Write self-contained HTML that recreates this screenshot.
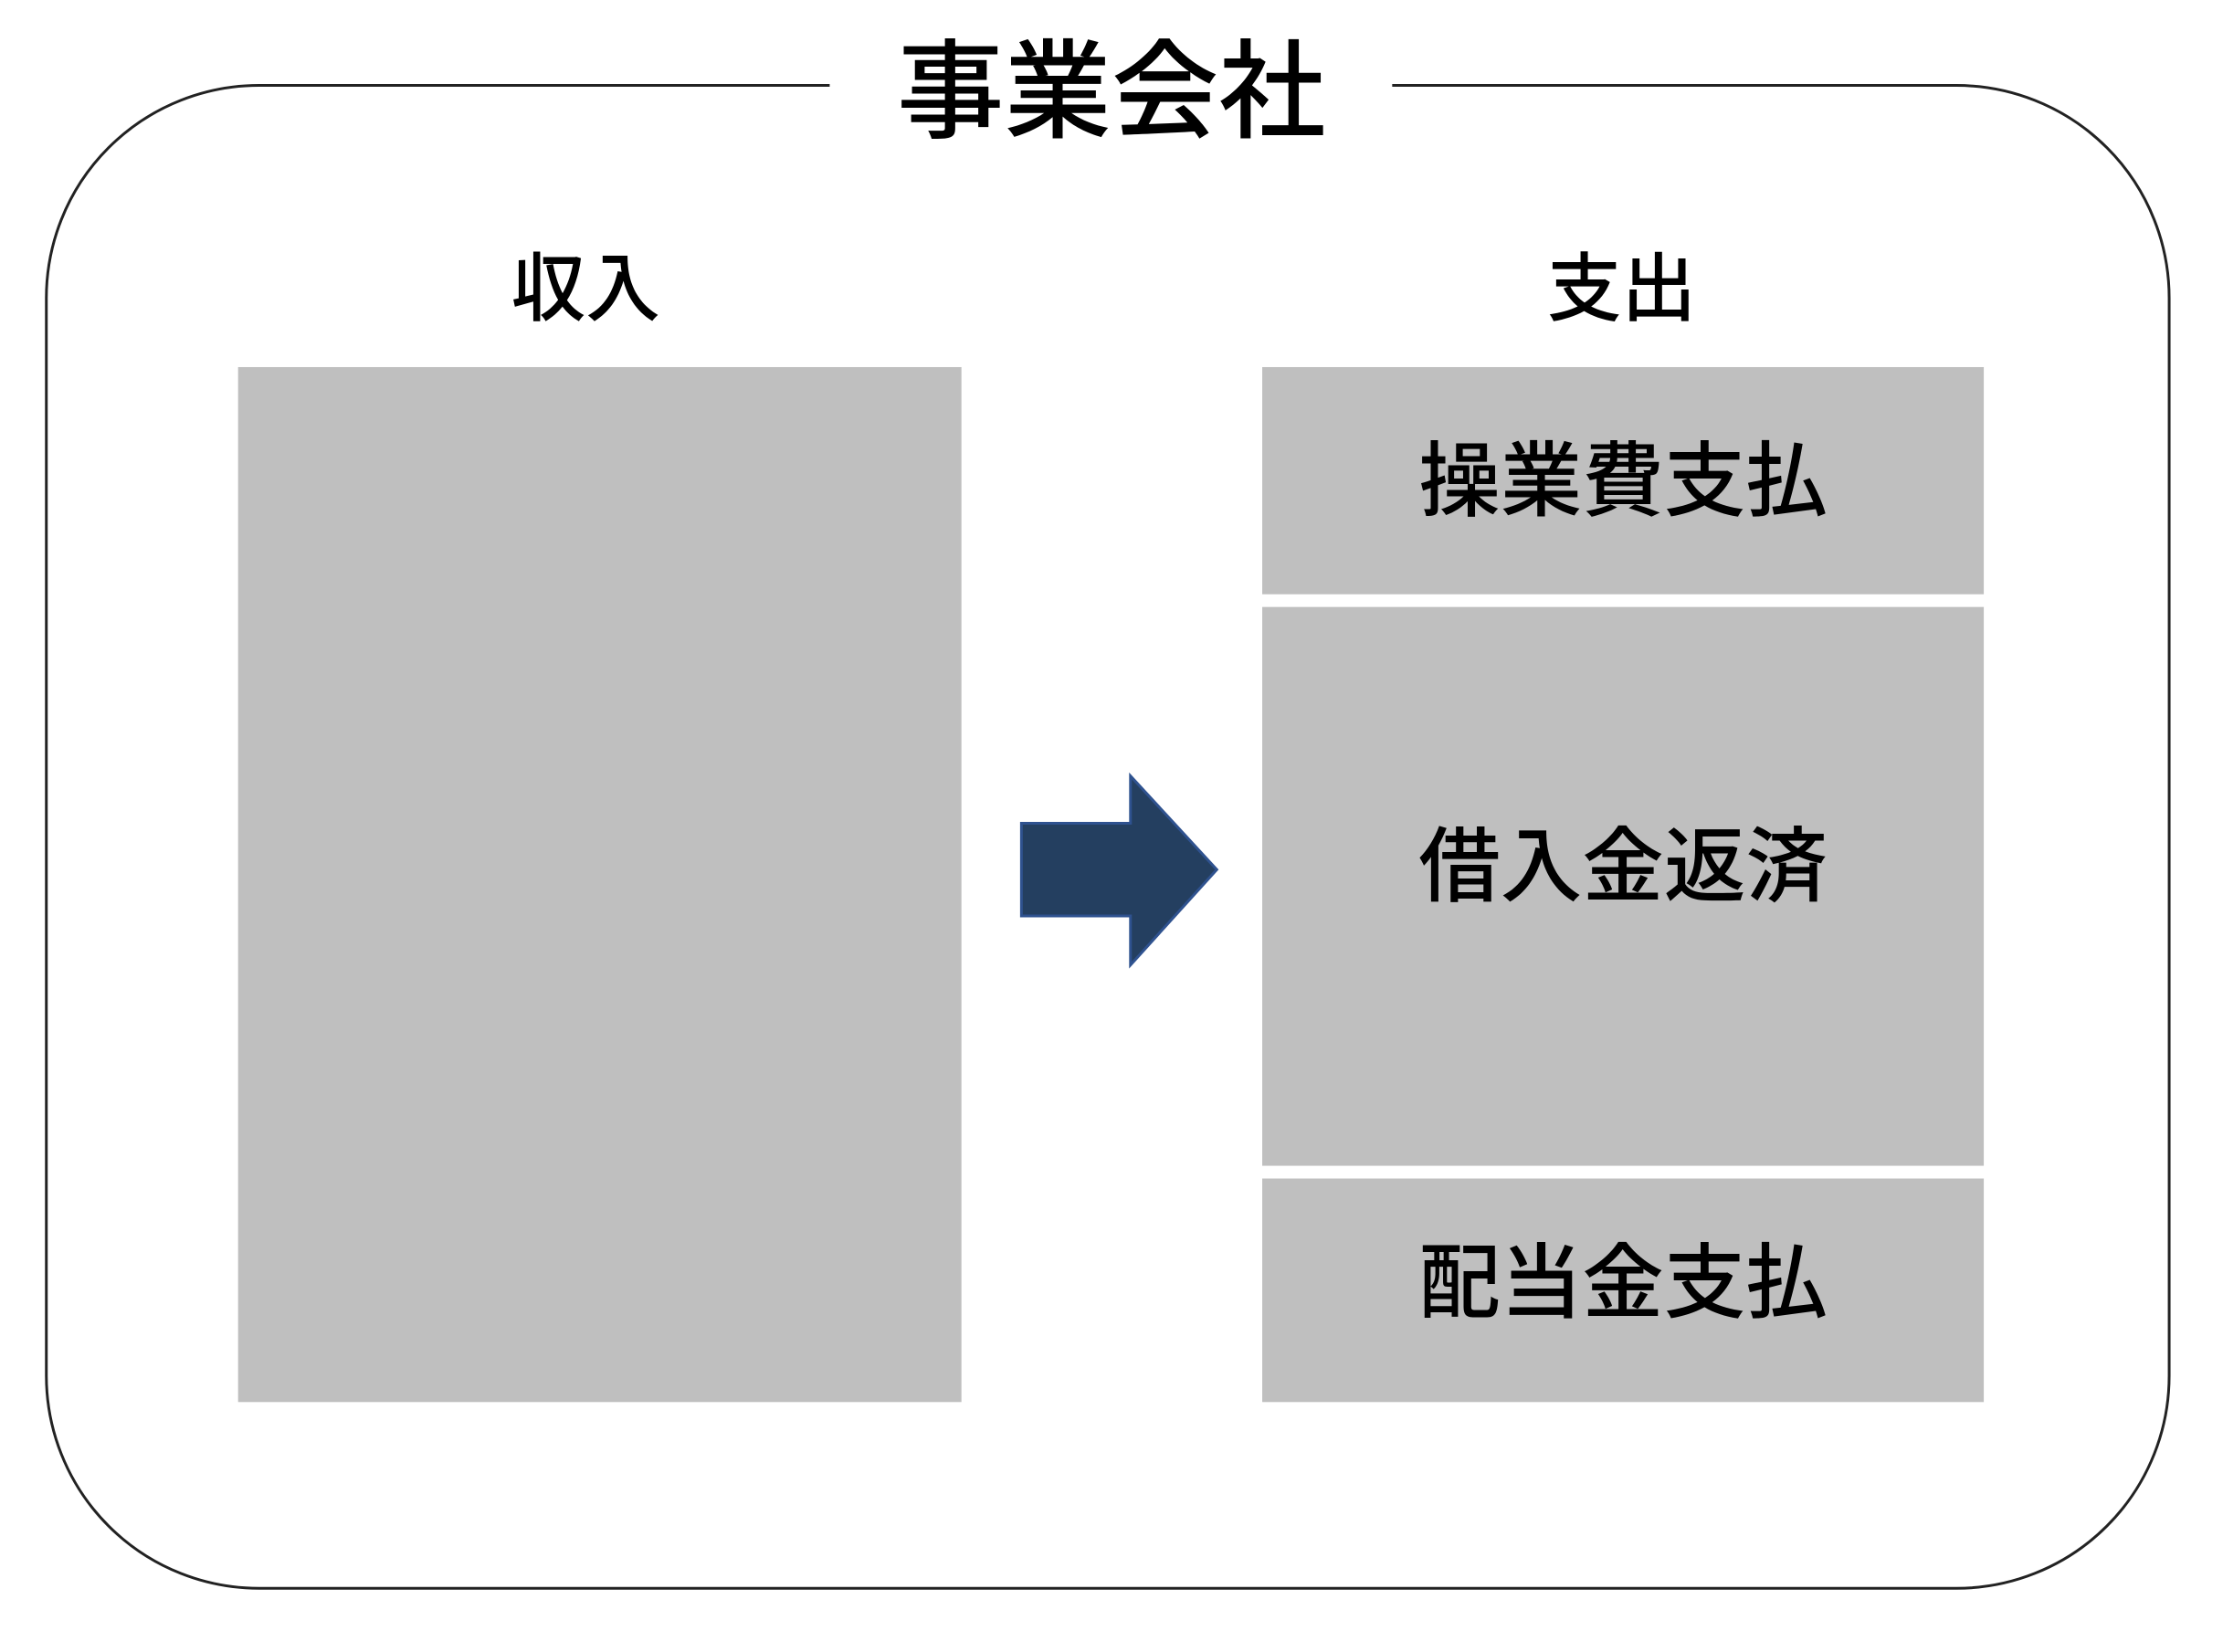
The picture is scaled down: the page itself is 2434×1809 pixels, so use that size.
<!DOCTYPE html>
<html><head><meta charset="utf-8"><style>
html,body{margin:0;padding:0;background:#fff}
body{width:2434px;height:1809px;position:relative;overflow:hidden;font-family:"Liberation Sans","Noto Sans CJK JP",sans-serif;color:#000}
#w{position:absolute;left:0;top:0;width:2434px;height:1809px;transform:scale(0.995);transform-origin:0 0}
.t{position:absolute;white-space:nowrap;text-align:center;line-height:1;font-weight:500}
.b{position:absolute;background:#bfbfbf}
</style></head><body><div id="w">
<svg width="2434" height="1809" style="position:absolute;left:0;top:0">
<path d="M913 94 H285 A234 234 0 0 0 51 328 V1514 A234 234 0 0 0 285 1748 H2153 A234 234 0 0 0 2387 1514 V328 A234 234 0 0 0 2153 94 H1532" fill="none" stroke="#222" stroke-width="3"/>
<polygon points="1124,906 1244,906 1244,854 1339,957 1244,1062 1244,1008 1124,1008" fill="#243f60" stroke="#2f528f" stroke-width="3"/>
</svg>
<div class="t" style="left:913px;width:620px;top:43px;font-size:118px">事業会社</div>
<div class="t" style="left:462px;width:365px;top:278px;font-size:82px">収入</div>
<div class="t" style="left:1602px;width:365px;top:278px;font-size:82px">支出</div>
<div class="b" style="left:262px;top:404px;width:796px;height:1139px"></div>
<div class="b" style="left:1389px;top:404px;width:794px;height:250px"></div>
<div class="b" style="left:1389px;top:668px;width:794px;height:615px"></div>
<div class="b" style="left:1389px;top:1297px;width:794px;height:246px"></div>
<div class="t" style="left:1389px;width:794px;top:486px;font-size:90px">操業費支払</div>
<div class="t" style="left:1389px;width:794px;top:910px;font-size:90px">借入金返済</div>
<div class="t" style="left:1389px;width:794px;top:1368px;font-size:90px">配当金支払</div>
</div></body></html>
